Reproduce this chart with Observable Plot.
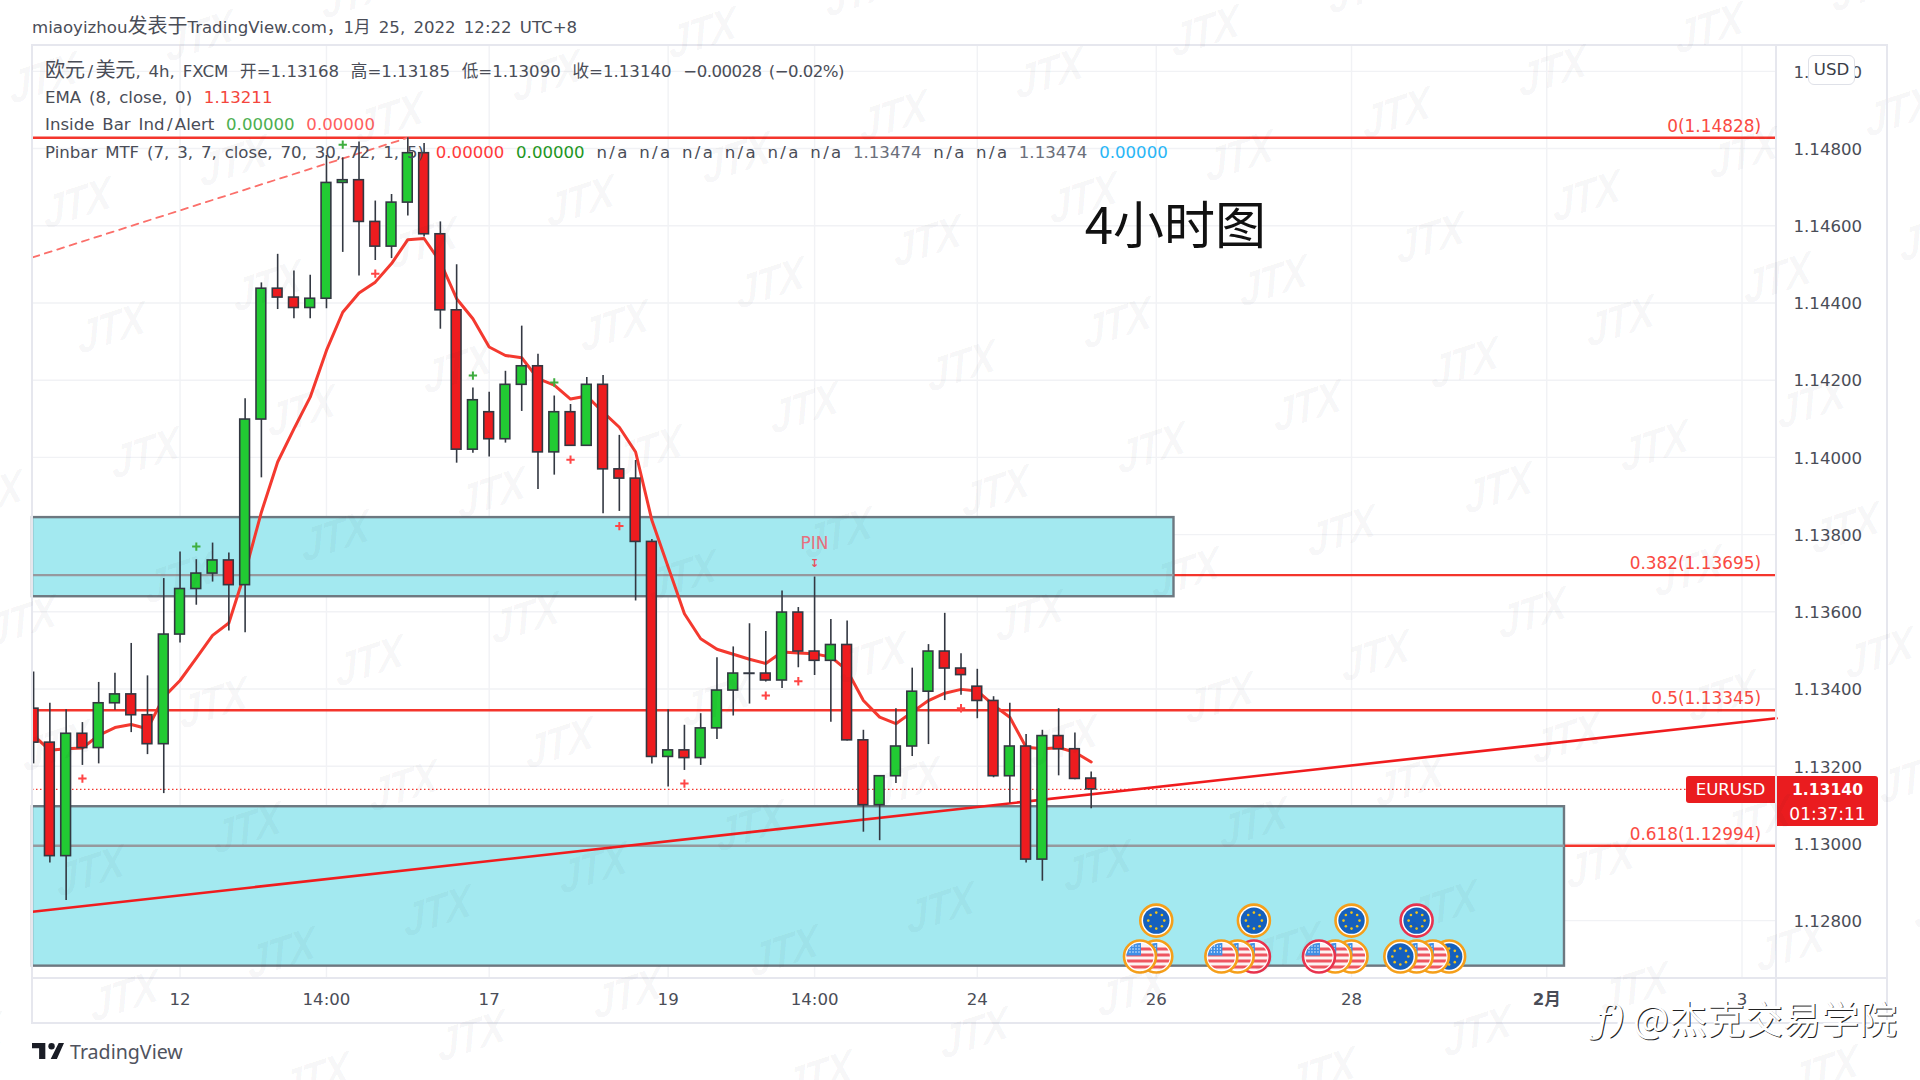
<!DOCTYPE html>
<html lang="zh">
<head>
<meta charset="utf-8">
<script src="https://cdn.jsdelivr.net/npm/d3@7"></script>
<script src="https://cdn.jsdelivr.net/npm/@observablehq/plot@0.6"></script>
<style>
html,body{margin:0;padding:0;background:#fff;width:1920px;height:1080px;overflow:hidden}
#stage{position:relative;width:1920px;height:1080px;overflow:hidden;font-family:"DejaVu Sans","Noto Sans CJK SC",sans-serif;color:#4a4d57}
#stage svg{position:absolute;left:0;top:0}
.abs{position:absolute;white-space:nowrap}
.line{background:#e6e7ee;position:absolute}
#legend{left:45px;top:57px;font-size:16.6px;line-height:27.2px;word-spacing:2.6px}
#legend .row{height:27.2px;display:block;white-space:nowrap}
#legend .run{margin-right:11.7px}
#legend .row:first-child .run:last-child{letter-spacing:-.55px}
.slash{margin:0 2.4px;font-style:normal}
.cjk{font-size:20px}
.wm{position:absolute;font:italic bold 40px "Liberation Sans",sans-serif;color:rgba(30,30,40,.036);transform:translate(-50%,-50%) rotate(-18deg) skewX(-14deg) scaleY(1.12);letter-spacing:-1px;pointer-events:none}
</style>
</head>
<body>
<div id="stage"></div>
<script>
// Candles (bar index is the position in these arrays)
const open = [1.13349,1.13261,1.12967,1.13284,1.13247,1.13363,1.13386,1.13332,1.13257,1.13541,1.13659,1.13699,1.13733,1.13669,1.14098,1.14437,1.14414,1.14387,1.14411,1.14711,1.14718,1.14610,1.14546,1.14660,1.14788,1.14578,1.14381,1.14020,1.14117,1.14047,1.14188,1.14236,1.14013,1.14117,1.14030,1.14188,1.13969,1.13945,1.13781,1.13224,1.13241,1.13221,1.13298,1.13396,1.13440,1.13440,1.13422,1.13598,1.13497,1.13473,1.13514,1.13267,1.13099,1.13174,1.13251,1.13393,1.13497,1.13453,1.13406,1.13369,1.13174,1.13251,1.12958,1.13278,1.13244,1.13168];
const close = [1.13261,1.12967,1.13284,1.13247,1.13363,1.13386,1.13332,1.13257,1.13541,1.13659,1.13699,1.13733,1.13669,1.14098,1.14437,1.14414,1.14387,1.14411,1.14711,1.14718,1.14610,1.14546,1.14660,1.14788,1.14578,1.14381,1.14020,1.14148,1.14047,1.14188,1.14236,1.14013,1.14117,1.14030,1.14188,1.13969,1.13945,1.13781,1.13224,1.13241,1.13221,1.13298,1.13396,1.13440,1.13439,1.13422,1.13598,1.13497,1.13473,1.13514,1.13267,1.13099,1.13174,1.13251,1.13393,1.13497,1.13453,1.13436,1.13369,1.13174,1.13251,1.12958,1.13278,1.13244,1.13167,1.13140];
const high = [1.13444,1.13363,1.13346,1.13313,1.13417,1.13441,1.13518,1.13434,1.13686,1.13755,1.13735,1.13778,1.13752,1.14152,1.14452,1.14526,1.14483,1.14472,1.14782,1.14776,1.14817,1.14664,1.14681,1.14828,1.14813,1.14610,1.14499,1.14180,1.14169,1.14223,1.14340,1.14267,1.14159,1.14137,1.14207,1.14212,1.14057,1.13992,1.13787,1.13346,1.13306,1.13336,1.13481,1.13509,1.13569,1.13549,1.13654,1.13611,1.13690,1.13580,1.13576,1.13293,1.13175,1.13349,1.13454,1.13515,1.13596,1.13491,1.13451,1.13380,1.13363,1.13282,1.13293,1.13349,1.13286,1.13185];
const low = [1.13206,1.12949,1.12852,1.13202,1.13206,1.13345,1.13287,1.13230,1.13129,1.13519,1.13617,1.13677,1.13550,1.13546,1.13947,1.14383,1.14359,1.14359,1.14385,1.14531,1.14470,1.14510,1.14515,1.14625,1.14571,1.14332,1.13985,1.14011,1.14001,1.14037,1.14119,1.13917,1.13954,1.14029,1.14029,1.13854,1.13860,1.13628,1.13206,1.13146,1.13189,1.13202,1.13269,1.13330,1.13361,1.13418,1.13401,1.13455,1.13435,1.13314,1.13265,1.13029,1.13007,1.13155,1.13225,1.13256,1.13370,1.13384,1.13323,1.13170,1.13104,1.12949,1.12902,1.13175,1.13165,1.13090];
const ema = [1.13280,1.13241,1.13245,1.13247,1.13280,1.13300,1.13308,1.13297,1.13379,1.13422,1.13480,1.13539,1.13571,1.13703,1.13858,1.13988,1.14074,1.14156,1.14277,1.14376,1.14426,1.14454,1.14502,1.14564,1.14567,1.14506,1.14411,1.14359,1.14286,1.14264,1.14258,1.14204,1.14187,1.14151,1.14159,1.14117,1.14078,1.14014,1.13837,1.13716,1.13595,1.13530,1.13503,1.13490,1.13477,1.13466,1.13496,1.13493,1.13491,1.13483,1.13448,1.13370,1.13327,1.13310,1.13340,1.13370,1.13389,1.13399,1.13395,1.13358,1.13327,1.13249,1.13245,1.13248,1.13236,1.13211];

// Axes
const priceTicks = [1.128,1.130,1.132,1.134,1.136,1.138,1.140,1.142,1.144,1.146,1.148,1.150];
const timeTicks = [9,18,28,39,48,58,69,81,93,105];
const timeLabels = ["12","14:00","17","19","14:00","24","26","28","2月","3"];
const panelLeft = -0.0676, panelRight = 107.12;

// Drawings
const fibLevels = [1.14828,1.13695,1.13345,1.12994];
const fibNames = ["0(1.14828)","0.382(1.13695)","0.5(1.13345)","0.618(1.12994)"];
const lastPrice = 1.13140;
const zoneTop = [1.13844,1.13095], zoneBottom = [1.13639,1.12682], zoneEnd = [70.09,94.09];
const trendBars = [panelLeft,panelRight], trendPrices = [1.12823,1.13324];
const dashBars = [panelLeft,23], dashPrices = [1.14518,1.14828];

// Signals
const redPlusBars = [3,21,33,36,40,45,47,57];
const redPlusPrices = [1.13168,1.14476,1.13994,1.13822,1.13155,1.13383,1.13420,1.13350];
const greenPlusBars = [10,19,27,32];
const greenPlusPrices = [1.13769,1.14810,1.14212,1.14194];
const pinBar = 48, pinTextPrice = 1.13777, pinMarkPrice = 1.13725;

// Economic events, back to front
const topEvents = [69,75,81,85], topRing = ["o","o","o","r"], topPrice = 1.12800;
const lowEvents = [69,68,75,74,73,81,80,79,87,86,85,84];
const lowKinds  = ["us","us","us","us","us","us","us","us","eu","us","us","eu"];
const lowRing   = ["o","o","r","o","o","o","o","r","o","o","o","o"];
const lowPrice = 1.12707;

// Text
const headerText = "miaoyizhou发表于TradingView.com，1月 25, 2022 12:22 UTC+8";
const legendRows = [
  [["欧元/美元, 4h, FXCM",""],["开=1.13168",""],["高=1.13185",""],["低=1.13090",""],["收=1.13140",""],["−0.00028 (−0.02%)",""]],
  [["EMA (8, close, 0)",""],["1.13211","#f4453c"]],
  [["Inside Bar Ind/Alert",""],["0.00000","#4caf50"],["0.00000","#ff5f5f"]],
  [["Pinbar MTF (7, 3, 7, close, 70, 30, 72, 1, 5)",""],["0.00000","#ff3b3b"],["0.00000","#23961f"],["n/a",""],["n/a",""],["n/a",""],["n/a",""],["n/a",""],["n/a",""],["1.13474","#6b6f7a"],["n/a",""],["n/a",""],["1.13474","#6b6f7a"],["0.00000","#29b6f6"]]
];

const bars = open.map((o,i)=>({i,o,c:close[i],h:high[i],l:low[i]}));
const up = "#22cb33", down = "#ee1c1f", ink = "#333842", fibRed = "#f4352c";

function coin(kind, ring){
  const r = ring==="r" ? "#e8334e" : "#f59f1a";
  let inner;
  if(kind==="eu"){
    const stars = d3.range(8).map(k=>{const a=k/8*2*Math.PI;return `<circle cx="${18+8*Math.cos(a)}" cy="${18+8*Math.sin(a)}" r="1.3" fill="#f2c419"/>`}).join("");
    inner = `<circle cx="18" cy="18" r="13.2" fill="#1560bd"/>${stars}`;
  }else{
    const stripes = [9,15,21,27].map(y=>`<rect x="0" y="${y}" width="36" height="3" fill="#ee5560"/>`).join("");
    const dots = d3.range(3).flatMap(a=>d3.range(4).map(b=>`<circle cx="${8+b*3}" cy="${7.5+a*3}" r=".7" fill="#fff"/>`)).join("");
    inner = `<defs><clipPath id="c"><circle cx="18" cy="18" r="13.6"/></clipPath></defs><g clip-path="url(#c)"><rect width="36" height="36" fill="#fdf3f3"/>${stripes}<rect x="4" y="4" width="15" height="13" fill="#3f8fe6"/>${dots}</g>`;
  }
  const svg = `<svg xmlns="http://www.w3.org/2000/svg" viewBox="0 0 36 36"><circle cx="18" cy="18" r="16" fill="#fff" stroke="${r}" stroke-width="2.6"/>${inner}</svg>`;
  return "data:image/svg+xml;utf8,"+encodeURIComponent(svg);
}
const events = [
  ...topEvents.map((i,k)=>({i,p:topPrice,src:coin("eu",topRing[k])})),
  ...lowEvents.map((i,k)=>({i,p:lowPrice,src:coin(lowKinds[k],lowRing[k])}))
];

const font = `"DejaVu Sans","Noto Sans CJK SC",sans-serif`;
const plot = Plot.plot({
  width:1920,height:1080,
  marginLeft:32,marginRight:144,marginTop:45,marginBottom:102,
  style:{background:"transparent",fontFamily:font,fontSize:"16.6px",color:"#4a4d57"},
  x:{domain:[panelLeft,panelRight]},
  y:{domain:[1.12650,1.15067]},
  marks:[
    Plot.ruleY(priceTicks,{stroke:"#f1f2f5",strokeWidth:1.4}),
    Plot.ruleX(timeTicks,{stroke:"#f1f2f5",strokeWidth:1.4}),
    Plot.ruleY(fibLevels,{stroke:fibRed,strokeWidth:2.4}),
    Plot.ruleY([lastPrice],{x1:panelLeft,x2:101.6,stroke:"#f4352c",strokeWidth:1.4,strokeDasharray:"1.5,2.5"}),
    Plot.rect(zoneTop,{x1:()=>panelLeft,x2:(d,k)=>zoneEnd[k],y1:(d,k)=>zoneBottom[k],y2:d=>d,fill:"#a3e9f0",stroke:"#6d7880",strokeWidth:2.4}),
    Plot.ruleY([fibLevels[1]],{x1:panelLeft,x2:zoneEnd[0],stroke:"#96999e",strokeWidth:2.4}),
    Plot.ruleY([fibLevels[3]],{x1:panelLeft,x2:zoneEnd[1],stroke:"#96999e",strokeWidth:2.4}),
    Plot.line(dashBars.map((x,k)=>({x,y:dashPrices[k]})),{x:"x",y:"y",stroke:"#fb6f6a",strokeWidth:1.8,strokeDasharray:"7,6"}),
    Plot.line(trendBars.map((x,k)=>({x,y:trendPrices[k]})),{x:"x",y:"y",stroke:"#f01c1e",strokeWidth:2.6}),
    Plot.line(ema,{x:(d,k)=>k,y:d=>d,stroke:"#f4392f",strokeWidth:3}),
    Plot.ruleX(bars,{x:"i",y1:"l",y2:"h",stroke:ink,strokeWidth:1.6}),
    Plot.rect(bars,{x1:d=>Math.max(d.i-.3,panelLeft),x2:d=>d.i+.3,y1:"o",y2:"c",fill:d=>d.c>=d.o?up:down,stroke:ink,strokeWidth:1.6}),
    Plot.dot(redPlusBars,{x:d=>d,y:(d,k)=>redPlusPrices[k],symbol:"plus",r:2.8,stroke:"#ff4545",strokeWidth:2}),
    Plot.dot(greenPlusBars,{x:d=>d,y:(d,k)=>greenPlusPrices[k],symbol:"plus",r:2.8,stroke:"#3fae3f",strokeWidth:2}),
    Plot.text(["PIN"],{x:()=>pinBar,y:()=>pinTextPrice,fill:"#e8707f",fontSize:17}),
    Plot.text(["↧"],{x:()=>pinBar,y:()=>pinMarkPrice,fill:"#e8505f",fontSize:11,fontWeight:"bold"}),
    Plot.text(fibNames,{x:()=>106.17,y:(d,k)=>fibLevels[k],dy:-11.5,text:d=>d,textAnchor:"end",fill:"#fa4a42",fontSize:16.9}),
    Plot.text(["4小时图"],{x:()=>64.6,y:()=>1.14596,text:d=>d,textAnchor:"start",fill:"#111",fontSize:51,fontFamily:`"Noto Sans CJK SC",sans-serif`}),
    Plot.image(events,{x:"i",y:"p",src:"src",width:36,height:36}),
    Plot.axisY({anchor:"right",ticks:priceTicks,tickFormat:d3.format(".5f"),tickSize:0,tickPadding:17,dy:1,label:null,fill:"#4a4d57"}),
    Plot.axisX({ticks:timeTicks,tickFormat:d=>timeLabels[timeTicks.indexOf(d)],tickSize:0,tickPadding:15,label:null,fill:"#4a4d57"})
  ]
});
const stage = document.getElementById("stage");
stage.appendChild(plot);
plot.querySelectorAll("text").forEach(t=>{ if(t.textContent==="2月") t.setAttribute("font-weight","bold"); });

function div(cls,css,txt){const e=document.createElement("div");e.className=cls;e.style.cssText=css;if(txt!=null)e.textContent=txt;stage.appendChild(e);return e;}
// Wider slash and larger CJK, as in the source, without changing the text itself
function styled(el,t,cjk){
  t.split(/(\/|[\u4e00-\u9fff]+)/).filter(Boolean).forEach(part=>{
    const s=document.createElement("span");
    s.textContent=part;
    if(part==="/") s.className="slash";
    else if(cjk && /[\u4e00-\u9fff]/.test(part) && part.length>1) s.className="cjk";
    el.appendChild(s);
  });
}

// chart chrome
div("line","left:32px;top:44px;width:1855px;height:2px");
div("line","left:32px;top:1022px;width:1855px;height:2px");
div("line","left:31px;top:44px;width:2px;height:980px");
div("line","left:1886px;top:44px;width:2px;height:980px");
div("line","left:1775px;top:44px;width:2px;height:980px");
div("line","left:32px;top:977px;width:1855px;height:2px");

const hdr = div("abs",'left:32px;top:15px;font-size:16.6px;line-height:22px;color:#4a4d57;word-spacing:2.9px');
styled(hdr,headerText,true);

const legend = div("abs","");legend.id="legend";
legendRows.forEach(row=>{
  const r=document.createElement("div");r.className="row";
  row.forEach(([t,c])=>{const s=document.createElement("span");s.className="run";styled(s,t,true);if(c)s.style.color=c;r.appendChild(s);});
  legend.appendChild(r);
});

// USD button
div("abs","left:1808px;top:55px;width:45px;height:28px;line-height:27px;text-align:center;background:#fff;border:1px solid #dfe1e8;border-radius:6px;font-size:16.6px;color:#3a3d47","USD");

// last price tags
div("abs","left:1686px;top:776px;width:89px;height:27px;line-height:27px;text-align:center;background:#ea1c1f;color:#fff;border-radius:3px 0 0 3px;font-size:16.6px","EURUSD");
div("abs","left:1777px;top:776px;width:101px;height:50px;background:#ea1c1f;border-radius:0 3px 3px 0");
div("abs","left:1777px;top:778px;width:101px;height:24px;line-height:24px;text-align:center;color:#fff;font-size:15.6px;font-weight:bold","1.13140");
div("abs","left:1777px;top:802px;width:101px;height:24px;line-height:24px;text-align:center;color:#fff;font-size:17px","01:37:11");

// TradingView footer
const logo = document.createElement("div");
logo.className="abs";logo.style.cssText="left:32px;top:1043px;width:32px;height:18px";
logo.innerHTML='<svg width="32" height="16" viewBox="0 0 36 18" style="position:static"><path d="M0 0h15v18H8V6H0z M30 0h6l-8 18h-7z" fill="#1a1d26"/><circle cx="22" cy="3.6" r="3.6" fill="#1a1d26"/></svg>';
stage.appendChild(logo);
div("abs",'left:70px;top:1040px;font:19.6px/24px "Noto Sans",sans-serif;color:#50535e',"TradingView");

// publisher mark
const mark = (dx,dy,col)=>{
  div("abs",`left:${1633+dx}px;top:${993+dy}px;font:38px/48px "Noto Sans CJK SC",sans-serif;color:${col};letter-spacing:0`,"@杰克交易学院");
  div("abs",`left:${1596+dx}px;top:${995+dy}px;font:italic 38px/48px "DejaVu Serif",serif;color:${col}`,"ƒ)");
};
mark(1,1,"#222");
mark(0,0,"#fff");

// JTX watermark lattice
const wmOrigin=[1083,198], wmA=[156.4,-42.5], wmB=[34,125];
for(let a=-14;a<=14;a++)for(let b=-8;b<=10;b++){
  const x=wmOrigin[0]+a*wmA[0]+b*wmB[0], y=wmOrigin[1]+a*wmA[1]+b*wmB[1];
  if(x>-60&&x<1980&&y>-40&&y<1120) div("wm",`left:${x}px;top:${y}px`,"JTX");
}
</script>
</body>
</html>
